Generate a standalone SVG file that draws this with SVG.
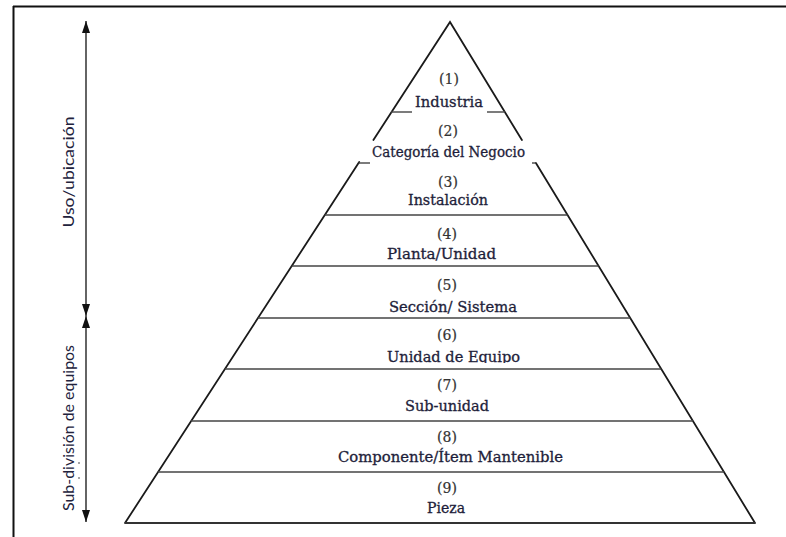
<svg xmlns="http://www.w3.org/2000/svg" width="786" height="537" viewBox="0 0 786 537">
<style>
.frame{stroke:#111;stroke-width:2;fill:none}
.edge{stroke:#1a1a1a;stroke-width:1.8;fill:none;stroke-linecap:round}
.hl{stroke:#444;stroke-width:1.4;fill:none}
.base{stroke:#333;stroke-width:2.2;fill:none}
.num{font-family:"DejaVu Serif",serif;font-size:14px;fill:#333;text-anchor:middle;stroke:#333;stroke-width:0.2}
.lbl{font-family:"DejaVu Serif",serif;font-size:14.5px;fill:#1e1e3a;text-anchor:middle;stroke:#1e1e3a;stroke-width:0.3}
.side{font-family:Lato,"Open Sans",sans-serif;font-size:16px;fill:#22223c;text-anchor:middle}
.arr{stroke:#111;stroke-width:1.3;fill:none}
</style>
<defs>
<marker id="ah" viewBox="0 0 12 8" refX="12" refY="4" markerWidth="12" markerHeight="8" markerUnits="userSpaceOnUse" orient="auto-start-reverse">
<path d="M0,0 L12,4 L0,8 z" fill="#111"/>
</marker>
<clipPath id="clip6"><rect x="300" y="340" width="300" height="23"/></clipPath>
</defs>
<rect width="786" height="537" fill="#fff"/>
<g id="frame">
<line class="frame" x1="13" y1="6.5" x2="786" y2="6.5"/>
<line class="frame" x1="13.5" y1="6" x2="13.5" y2="537"/>
</g>
<g id="connectors">
<line class="arr" x1="86" y1="21" x2="86" y2="316" marker-start="url(#ah)" marker-end="url(#ah)"/>
<line class="arr" x1="86" y1="316" x2="86" y2="522" marker-start="url(#ah)" marker-end="url(#ah)"/>
<circle cx="79" cy="463" r="0.8" fill="#333"/>
<circle cx="79" cy="478" r="0.8" fill="#333"/>
</g>
<g id="side-labels">
<text class="side" transform="translate(74,172) rotate(-90)" textLength="111" lengthAdjust="spacingAndGlyphs">Uso/ubicación</text>
<text class="side" transform="translate(74,428) rotate(-90)" textLength="166" lengthAdjust="spacingAndGlyphs">Sub-división de equipos</text>
</g>
<g id="pyramid">
<path class="edge" d="M373.4,140 L450,22 L521.9,140"/>
<path class="edge" d="M359.2,162 L125,523"/>
<path class="edge" d="M535.9,163 L755,523"/>
<line class="base" x1="125" y1="523" x2="755" y2="523"/>
</g>
<g id="level1">
<line class="hl" x1="391" y1="112" x2="412" y2="112"/>
<line class="hl" x1="487" y1="112" x2="505" y2="112"/>
<text class="num" x="449" y="84">(1)</text>
<text class="lbl" x="449" y="107" textLength="68" lengthAdjust="spacingAndGlyphs">Industria</text>
</g>
<g id="level2">
<line class="hl" x1="358.5" y1="163" x2="370" y2="163"/>
<line class="hl" x1="532" y1="163" x2="536" y2="163"/>
<text class="num" x="448" y="136">(2)</text>
<text class="lbl" x="448.5" y="157" textLength="153" lengthAdjust="spacingAndGlyphs">Categoría del Negocio</text>
</g>
<g id="level3">
<line class="hl" x1="324.7" y1="215" x2="567.5" y2="215"/>
<text class="num" x="448" y="187">(3)</text>
<text class="lbl" x="448" y="205" textLength="80" lengthAdjust="spacingAndGlyphs">Instalación</text>
</g>
<g id="level4">
<line class="hl" x1="291.6" y1="266" x2="598.6" y2="266"/>
<text class="num" x="447" y="239">(4)</text>
<text class="lbl" x="441.5" y="259" textLength="109" lengthAdjust="spacingAndGlyphs">Planta/Unidad</text>
</g>
<g id="level5">
<line class="hl" x1="257.9" y1="318" x2="630.3" y2="318"/>
<text class="num" x="447" y="290">(5)</text>
<text class="lbl" x="453" y="312" textLength="128" lengthAdjust="spacingAndGlyphs">Sección/ Sistema</text>
</g>
<g id="level6">
<line class="hl" x1="224.8" y1="369" x2="661.3" y2="369"/>
<text class="num" x="447" y="340">(6)</text>
<text class="lbl" x="453.5" y="362" clip-path="url(#clip6)" textLength="133" lengthAdjust="spacingAndGlyphs">Unidad de Equipo</text>
</g>
<g id="level7">
<line class="hl" x1="191" y1="421" x2="693" y2="421"/>
<text class="num" x="447" y="390">(7)</text>
<text class="lbl" x="447" y="411" textLength="84" lengthAdjust="spacingAndGlyphs">Sub-unidad</text>
</g>
<g id="level8">
<line class="hl" x1="157.9" y1="472" x2="724.1" y2="472"/>
<text class="num" x="447" y="442">(8)</text>
<text class="lbl" x="450.5" y="462" textLength="225" lengthAdjust="spacingAndGlyphs">Componente/Ítem Mantenible</text>
</g>
<g id="level9">
<text class="num" x="447" y="493">(9)</text>
<text class="lbl" x="446" y="513" textLength="38" lengthAdjust="spacingAndGlyphs">Pieza</text>
</g>
</svg>
